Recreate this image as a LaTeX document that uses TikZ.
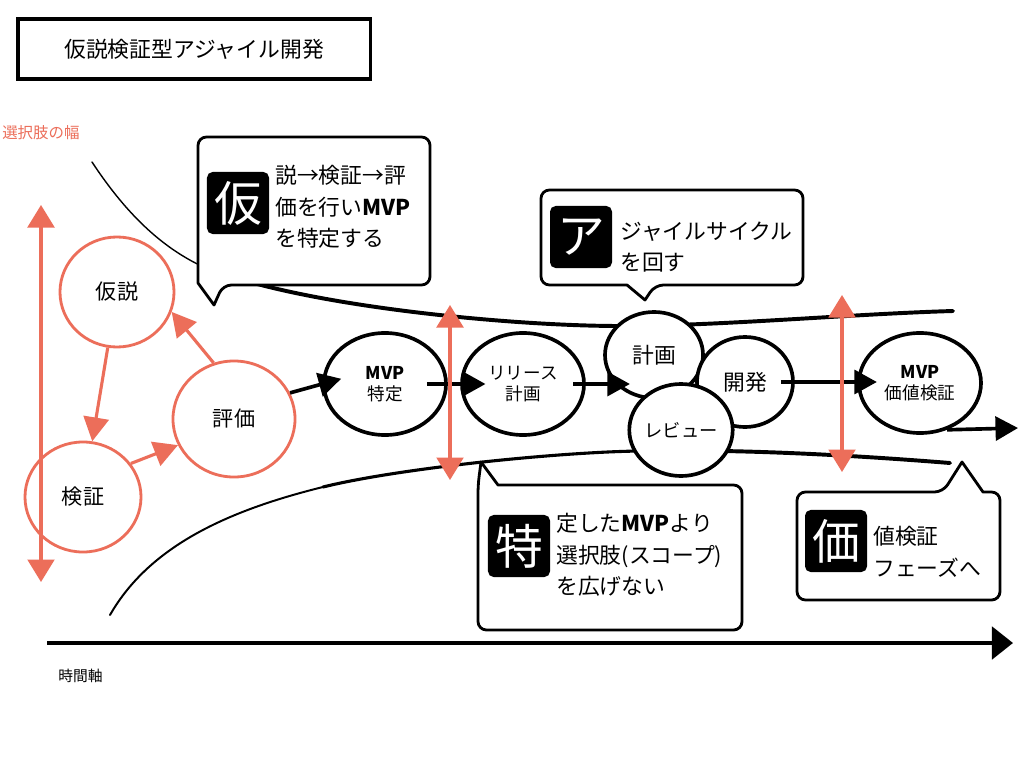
\documentclass[tikz,border=0pt]{standalone}
\usepackage{fontspec}
\setmainfont{Noto Sans CJK JP}
\usetikzlibrary{arrows.meta,positioning,shapes.geometric}
\definecolor{salmon}{RGB}{236,110,90}

\begin{document}
\begin{tikzpicture}[
    x=0.025cm, y=-0.025cm,
    redcirc/.style={ellipse, draw=salmon, line width=2pt, fill=white, inner sep=0pt, font=\fontsize{15}{18}\selectfont},
    blkcirc/.style={ellipse, draw=black, line width=2.6pt, fill=white, inner sep=0pt, align=center, font=\fontsize{12.5}{15}\selectfont},
    bubble/.style={draw=black, line width=2pt, fill=white, line join=round},
    initial/.style={fill=black, text=white, rounded corners=4pt, minimum width=1.55cm, minimum height=1.55cm, inner sep=0pt, font=\fontsize{34}{34}\selectfont},
    bubbletext/.style={anchor=west, align=left, inner sep=0pt, font=\fontsize{15.5}{22.5}\selectfont},
    flow/.style={line width=2.6pt, -{Triangle[length=16pt,width=17pt]}},
    redflow/.style={draw=salmon, line width=2.2pt, -{Triangle[length=17pt,width=18pt]}},
    scopearrow/.style={draw=salmon, line width=2.2pt, {Triangle[length=16pt,width=19pt]}-{Triangle[length=16pt,width=19pt]}},
    boundary/.style={line cap=round}
]
\fill[white] (0,0) rectangle (1024,768);
\useasboundingbox (0,0) rectangle (1024,768);

% title
\node[draw, line width=2.2pt, minimum width=8.8cm, minimum height=1.5cm, font=\fontsize{15.5}{18}\selectfont] (title) at (194,49) {仮説検証型アジャイル開発};
\node[anchor=west, inner sep=0pt, text=salmon, font=\fontsize{11}{13}\selectfont] (width_label) at (2,133) {選択肢の幅};

% funnel of options
\coordinate (upA) at (92,162);
\coordinate (upB) at (250,282);
\coordinate (upC) at (620,326);
\coordinate (upD) at (953,311);
\draw[boundary, line width=1pt] (upA) .. controls (140,235) and (190,270) .. (upB);
\draw[boundary, line width=2.8pt] (upB) .. controls (350,310) and (520,326) .. (upC) .. controls (720,326) and (850,314) .. (upD);

\coordinate (loA) at (110,615);
\coordinate (loB) at (323,487);
\coordinate (loD) at (640,451);
\coordinate (loE) at (950,463);
\draw[boundary, line width=1.4pt] (loA) .. controls (150,545) and (230,510) .. (loB);
\draw[boundary, line width=2.2pt] (loB) .. controls (400,468) and (560,452) .. (loD);
\draw[boundary, line width=2.8pt] (loD) .. controls (740,449) and (850,455) .. (loE);

% time axis
\coordinate (tStart) at (47,643);
\coordinate (tEnd) at (1013,643);
\draw[line width=3pt, -{Triangle[length=15pt,width=23pt]}] (tStart) -- (tEnd);
\node[anchor=west, inner sep=0pt, font=\fontsize{10.5}{12}\selectfont] (time_label) at (58,676) {時間軸};

% hypothesis loop
\node[redcirc, minimum width=2.85cm, minimum height=2.75cm] (kasetsu) at (117,292) {仮説};
\node[redcirc, minimum width=2.9cm, minimum height=2.75cm] (kensho) at (83,497) {検証};
\node[redcirc, minimum width=3.05cm, minimum height=2.9cm] (hyoka) at (234,419) {評価};
\draw[redflow] (kasetsu) -- (kensho);
\draw[redflow] (kensho.35) -- (hyoka.205);
\draw[redflow] (hyoka.110) -- (kasetsu.-20);

\coordinate (w0top) at (41,205);
\coordinate (w0bot) at (41,582);
\draw[scopearrow] (w0top) -- (w0bot);

% agile flow
\node[blkcirc, minimum width=3.05cm, minimum height=2.55cm] (mvp) at (385,384) {\textbf{MVP}\\特定};
\node[blkcirc, minimum width=3.05cm, minimum height=2.55cm] (release) at (523,384) {リリース\\計画};
\node[blkcirc, minimum width=2.45cm, minimum height=2.15cm, font=\fontsize{15.5}{18}\selectfont] (keikaku) at (654,355) {計画};
\node[blkcirc, minimum width=2.4cm, minimum height=2.25cm, font=\fontsize{15.5}{18}\selectfont] (kaihatsu) at (745,382) {開発};
\node[blkcirc, minimum width=2.35cm, minimum height=2.3cm, font=\fontsize{13}{15}\selectfont] (review) at (681,430) {レビュー};
\node[blkcirc, minimum width=3.05cm, minimum height=2.5cm] (kachi) at (920,383) {\textbf{MVP}\\価値検証};

\coordinate (outEnd) at (1018,428);
\draw[flow, shorten >=-14pt] (hyoka.25) -- (mvp.west);
\draw[flow, shorten <=-15pt, shorten >=-18pt] (mvp.east) -- (release.west);
\draw[flow, shorten <=-9pt, shorten >=-19pt] (release.east) -- (release.east -| keikaku.west);
\draw[flow, shorten <=-10pt, shorten >=-14pt] (kaihatsu.east) -- (kaihatsu.east -| kachi.west);
\draw[flow] (kachi.-60) -- (outEnd);

\coordinate (w1top) at (450,305);
\coordinate (w1bot) at (450,480);
\coordinate (w2top) at (842,295);
\coordinate (w2bot) at (842,472);
\draw[scopearrow] (w1top) -- (w1bot);
\draw[scopearrow] (w2top) -- (w2bot);

% callouts
\draw[bubble] (214,305) -- (198,283) [rounded corners=6pt] -- (198,137) -- (430,137) -- (430,285) -- (223,285) [sharp corners] -- cycle;
\node[initial] (kari) at (238,203) {仮};
\node[bubbletext] (kari_text) at (275,207) {説→検証→評\\価を行い\textbf{MVP}\\を特定する};

\draw[bubble] (645,300) -- (627,285) [rounded corners=6pt] -- (541,285) -- (541,190) -- (803,190) -- (803,285) -- (655,285) [sharp corners] -- cycle;
\node[initial] (a_kana) at (581,237) {ア};
\node[bubbletext] (a_text) at (620,247) {ジャイルサイクル\\を回す};

\draw[bubble] (481,462) -- (498,485) [rounded corners=6pt] -- (742,485) -- (742,630) -- (478,630) -- (478,485) [sharp corners] -- cycle;
\node[initial] (toku) at (519,546) {特};
\node[bubbletext] (toku_text) at (556,555) {定した\textbf{MVP}より\\選択肢(スコープ)\\を広げない};

\draw[bubble] (962,462) -- (983,492) [rounded corners=6pt] -- (1000,492) -- (1000,600) -- (797,600) -- (797,492) -- (943,492) [sharp corners] -- cycle;
\node[initial] (ka) at (836,541) {価};
\node[bubbletext] (ka_text) at (873,552) {値検証\\フェーズへ};
\end{tikzpicture}
\end{document}
